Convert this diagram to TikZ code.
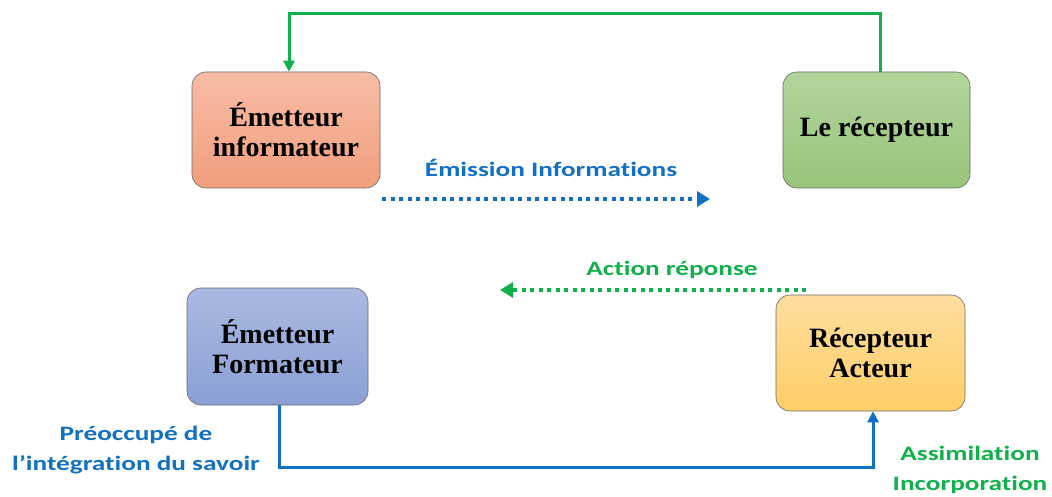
\documentclass[tikz,border=0pt]{standalone}
\usepackage{fontspec}
\setmainfont{Liberation Serif}
\newfontfamily\lblfont[FakeStretch=1.33,Ligatures=NoCommon]{Carlito}
\usetikzlibrary{arrows.meta}
\definecolor{cblue}{HTML}{1170C4}
\definecolor{cgreen}{HTML}{10B04A}
\tikzset{
  box/.style={draw=black!60, line width=0.6pt, rounded corners=14pt, align=center,
    font=\fontsize{28}{30}\selectfont\bfseries},
  lbl/.style={font=\lblfont\fontsize{20.5}{30}\selectfont\bfseries, align=center},
  dotarrow/.style={line width=4pt, dash pattern=on 4pt off 4.5pt, -{Triangle[length=13pt,width=15pt]}},
  solidarrow/.style={line width=3pt, -{Triangle[length=11pt,width=11pt]}},
}
\begin{document}
\begin{tikzpicture}[x=1pt,y=-1pt]
\useasboundingbox (0,0) rectangle (1052,497);
\node[box, minimum width=188pt, minimum height=116pt, top color={rgb,255:red,247;green,188;blue,166}, bottom color={rgb,255:red,242;green,158;blue,124}] (ei) at (286,130) {Émetteur\\informateur};
\node[box, minimum width=187pt, minimum height=116pt, top color={rgb,255:red,178;green,213;blue,156}, bottom color={rgb,255:red,152;green,196;blue,122}] (rec) at (876.5,130) {Le récepteur};
\node[box, minimum width=181pt, minimum height=117pt, top color={rgb,255:red,170;green,185;blue,225}, bottom color={rgb,255:red,138;green,160;blue,214}] (ef) at (277.5,346.5) {Émetteur\\Formateur};
\node[box, minimum width=189pt, minimum height=116pt, top color={rgb,255:red,255;green,221;blue,158}, bottom color={rgb,255:red,255;green,206;blue,102}] (ra) at (870.5,353) {Récepteur\\Acteur};

\coordinate (g1) at (880,14);
\coordinate (g2) at (289,14);
\draw[cgreen, solidarrow] (rec.north -| g1) -- (g1) -- (g2) -- (ei.north -| g2);

\coordinate (b1) at (279,467);
\coordinate (b2) at (873,467);
\draw[cblue, solidarrow] (ef.south -| b1) -- (b1) -- (b2) -- (ra.south -| b2);

\coordinate (e1) at (382,199);
\coordinate (e2) at (710,199);
\draw[cblue, dotarrow] (e1) -- (e2);
\node[lbl, text=cblue] (le) at (551,168) {Émission Informations};

\coordinate (a1) at (806,290);
\coordinate (a2) at (500,290);
\draw[cgreen, dotarrow] (a1) -- (a2);
\node[lbl, text=cgreen] (la) at (672,270) {Action réponse};

\node[lbl, text=cblue] (lp) at (136,450) {Préoccupé de\\l’intégration du savoir};
\node[lbl, text=cgreen] (las) at (970,470) {Assimilation\\Incorporation};
\end{tikzpicture}
\end{document}
